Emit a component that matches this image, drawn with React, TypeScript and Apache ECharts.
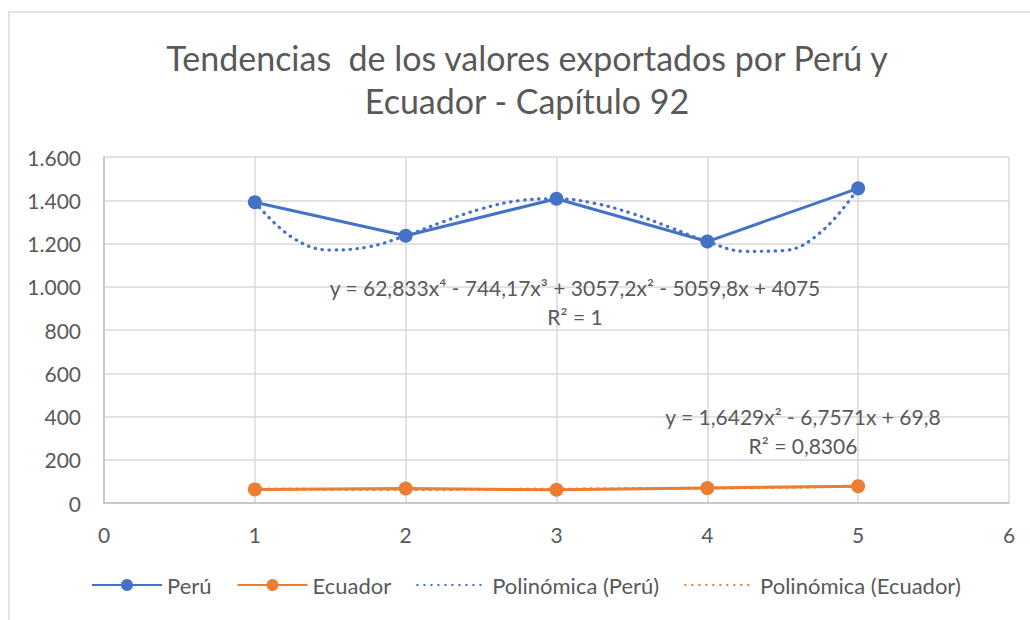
import React, { useEffect, useRef } from "react";
import * as echarts from "echarts";

const xValues = [1, 2, 3, 4, 5];
const peru = [1391, 1236, 1407, 1209, 1455];
const ecuador = [63, 67, 61, 69, 78];

const trendPeruX = [1, 1.25, 1.5, 1.75, 2, 2.25, 2.5, 2.75, 3, 3.25, 3.5, 3.75, 4, 4.25, 4.5, 4.75, 5];
const trendPeruY = [1391, 1227, 1170, 1184, 1236, 1301, 1360, 1398, 1407, 1386, 1339, 1275, 1209, 1164, 1167, 1251, 1455];

const trendEcuX = [1, 1.5, 2, 2.5, 3, 3.5, 4, 4.5, 5];
const trendEcuY = [64.7, 63.4, 62.9, 63.2, 64.4, 66.3, 69.2, 72.7, 77.3];

const title = "Tendencias  de los valores exportados por Perú y\nEcuador - Capítulo 92";
const eqPeru = "y = 62,833x⁴ - 744,17x³ + 3057,2x² - 5059,8x + 4075\nR² = 1";
const eqEcu = "y = 1,6429x² - 6,7571x + 69,8\nR² = 0,8306";

const FONT = "Lato, 'Open Sans', sans-serif";
const TXT = "#595959";
const GRID = "#d9d9d9";

export default function App() {
  const ref = useRef<HTMLDivElement>(null);
  useEffect(() => {
    document.body.style.margin = "0";
    const chart = echarts.init(ref.current!, null, { renderer: "svg" });
    const pair = (xs: number[], ys: number[]) => xs.map((x, i) => [x, ys[i]]);
    const dotted = [0.5, 6.5];
    chart.setOption({
      animation: false,
      backgroundColor: "#fff",
      textStyle: { fontFamily: FONT },
      title: {
        text: title,
        left: 527,
        textAlign: "center",
        top: 36,
        padding: 0,
        textStyle: { fontFamily: FONT, fontSize: 34, fontWeight: "normal", color: TXT, lineHeight: 43 },
      },
      grid: { left: 104, right: 21, top: 157, bottom: 117 },
      xAxis: {
        type: "value",
        min: 0,
        max: 6,
        interval: 1,
        axisLine: { show: true, lineStyle: { color: "#bfbfbf", width: 1.5 } },
        axisTick: { show: false },
        splitLine: { show: true, lineStyle: { color: GRID, width: 1.5 } },
        axisLabel: { color: TXT, fontSize: 21, margin: 21, fontFamily: FONT },
      },
      yAxis: {
        type: "value",
        min: 0,
        max: 1600,
        interval: 200,
        axisLine: { show: true, lineStyle: { color: "#bfbfbf", width: 1.5 } },
        axisTick: { show: false },
        splitLine: { show: true, lineStyle: { color: GRID, width: 1.5 } },
        axisLabel: {
          color: TXT,
          fontSize: 21,
          margin: 23,
          fontFamily: FONT,
          formatter: (v: number) => String(v).replace(/\B(?=(\d{3})+(?!\d))/g, "."),
        },
      },
      legend: {
        bottom: 19,
        left: 86,
        itemWidth: 70,
        itemHeight: 15,
        itemGap: 25,
        textStyle: { color: TXT, fontSize: 22, fontFamily: FONT },
        data: [
          "Perú",
          "Ecuador",
          { name: "Polinómica (Perú)", itemStyle: { opacity: 0 } },
          { name: "Polinómica (Ecuador)", itemStyle: { opacity: 0 } },
        ],
      },
      series: [
        {
          name: "Perú",
          type: "line",
          data: pair(xValues, peru),
          symbol: "circle",
          symbolSize: 14,
          lineStyle: { color: "#4472C4", width: 3 },
          itemStyle: { color: "#4472C4" },
          z: 3,
        },
        {
          name: "Ecuador",
          type: "line",
          data: pair(xValues, ecuador),
          symbol: "circle",
          symbolSize: 14,
          lineStyle: { color: "#ED7D31", width: 3 },
          itemStyle: { color: "#ED7D31" },
          z: 3,
        },
        {
          name: "Polinómica (Perú)",
          type: "line",
          data: pair(trendPeruX, trendPeruY),
          symbol: "none",
          smooth: 0.4,
          lineStyle: { color: "#4472C4", width: 3.2, type: dotted, cap: "round" },
          itemStyle: { color: "#4472C4" },
          z: 4,
        },
        {
          name: "Polinómica (Ecuador)",
          type: "line",
          data: pair(trendEcuX, trendEcuY),
          symbol: "none",
          smooth: 0.4,
          lineStyle: { color: "#ED7D31", width: 3.2, type: dotted, cap: "round" },
          itemStyle: { color: "#ED7D31" },
          z: 4,
        },
      ],
      graphic: [
        {
          type: "rect",
          shape: { x: 9, y: 12, width: 1040, height: 640 },
          style: { fill: "none", stroke: "#d9d9d9", lineWidth: 1.5 },
          silent: true,
          z: -1,
        },
        {
          type: "text",
          x: 575,
          y: 273,
          style: {
            text: eqPeru,
            fill: TXT,
            fontSize: 21,
            fontFamily: FONT,
            align: "center",
            lineHeight: 29,
          },
          z: 10,
        },
        {
          type: "text",
          x: 803,
          y: 402,
          style: {
            text: eqEcu,
            fill: TXT,
            fontSize: 21,
            fontFamily: FONT,
            align: "center",
            lineHeight: 29,
          },
          z: 10,
        },
      ],
    });
    return () => chart.dispose();
  }, []);
  return <div ref={ref} style={{ width: 1030, height: 620 }} />;
}
